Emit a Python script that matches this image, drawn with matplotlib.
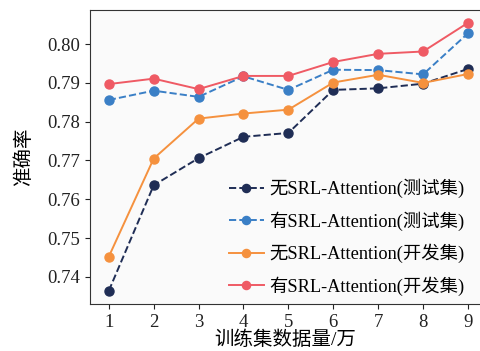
import matplotlib
matplotlib.use('Agg')
import matplotlib.pyplot as plt

plt.rcParams['font.family'] = ['Liberation Serif', 'Noto Sans CJK SC']

x = [1, 2, 3, 4, 5, 6, 7, 8, 9]
no_srl_test = [0.7364, 0.7636, 0.7706, 0.7761, 0.7771, 0.7882, 0.7886, 0.7898, 0.7936]
srl_test = [0.7856, 0.7880, 0.7864, 0.7917, 0.7882, 0.7934, 0.7933, 0.7922, 0.8028]
no_srl_dev = [0.7452, 0.7705, 0.7808, 0.7821, 0.7831, 0.7901, 0.7921, 0.7900, 0.7923]
srl_dev = [0.7897, 0.7911, 0.7884, 0.7918, 0.7918, 0.7954, 0.7975, 0.7981, 0.8055]

labels = ['无SRL-Attention(测试集)', '有SRL-Attention(测试集)',
          '无SRL-Attention(开发集)', '有SRL-Attention(开发集)']

fig = plt.figure(figsize=(4.81, 3.51), dpi=100)
ax = fig.add_axes([0.187, 0.134, 0.813, 0.8375])
ax.set_facecolor('#fafafa')

ax.plot(x, no_srl_test, '--o', color='#1f2d55', lw=1.4, ms=6.5, label=labels[0])
ax.plot(x, srl_test, '--o', color='#3a7fc6', lw=1.4, ms=6.5, label=labels[1])
ax.plot(x, no_srl_dev, '-o', color='#f5913e', lw=1.4, ms=6.5, label=labels[2])
ax.plot(x, srl_dev, '-o', color='#ef5a64', lw=1.4, ms=6.5, label=labels[3])

ax.set_xlim(0.58, 9.29)
ax.set_ylim(0.733, 0.8088)
ax.set_xticks(x)
ax.set_yticks([0.74, 0.75, 0.76, 0.77, 0.78, 0.79, 0.80])
ax.set_yticklabels(['0.74', '0.75', '0.76', '0.77', '0.78', '0.79', '0.80'])
ax.tick_params(labelsize=13.5, colors='#222222')
for s in ['left', 'bottom', 'top']:
    ax.spines[s].set_color('#333333')
ax.spines['right'].set_visible(False)

ax.set_xlabel('训练集数据量/万', fontsize=14, labelpad=0)
ax.set_ylabel('准确率', fontsize=14, labelpad=10)

ax.legend(loc='lower right', bbox_to_anchor=(0.985, -0.01), frameon=False,
          fontsize=13.2, labelspacing=0.72, handlelength=1.9, handletextpad=0.3,
          borderaxespad=0.2, markerscale=0.9)

fig.savefig('out.png', dpi=100)
